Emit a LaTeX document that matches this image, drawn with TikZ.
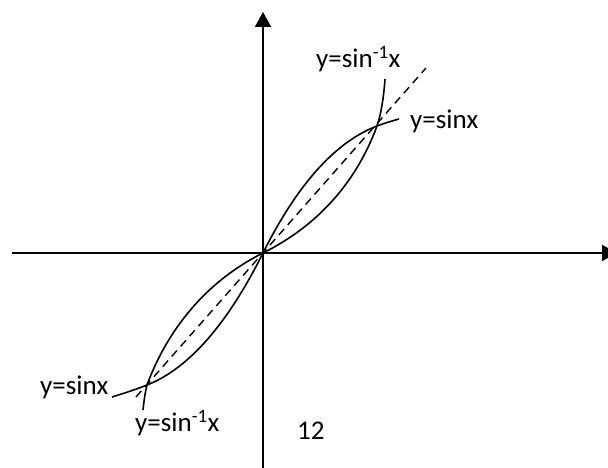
\documentclass[tikz,border=0pt]{standalone}
\usepackage{fontspec}
\setmainfont{Carlito}
\usetikzlibrary{arrows.meta,positioning}
\tikzset{
  axis/.style={-{Triangle[length=15pt, width=16pt]}, line width=1.8pt},
  curv/.style={line width=1.6pt},
  diag/.style={line width=1.4pt, dash pattern=on 8pt off 5.5pt},
  clab/.style={font=\fontsize{27}{32}\selectfont, inner sep=0pt},
}

\begin{document}
\begin{tikzpicture}[x=1pt, y=1pt]
  \useasboundingbox (-263,-215) rectangle (345,253);
  % axes
  \coordinate (O) at (0,0);
  \coordinate (xl) at (-251,0); \coordinate (xr) at (354,0);
  \coordinate (yb) at (0,-230); \coordinate (yt) at (0,241);
  \draw[axis] (xl) -- (xr);
  \draw[axis] (yb) -- (yt);
  % crossing points of the two curves
  \coordinate (P1) at (114,127);
  \coordinate (P2) at (-116,-132);
  % y=x
  \coordinate (dl) at (-127,-144); \coordinate (du) at (163,185);
  \draw[diag] (dl) -- (du);
  % y=sinx
  \coordinate (sl) at (-151,-144); \coordinate (su) at (136,134);
  \draw[curv] (sl) .. controls (-138,-140) and (-126,-136) .. (P2)
    .. controls (-80,-118) and (-40,-80) .. (O)
    .. controls (40,80) and (80,114) .. (P1)
    .. controls (122,130) and (129,132) .. (su);
  % y=sin^-1 x
  \coordinate (al) at (-120,-157); \coordinate (au) at (122,174);
  \draw[curv] (al) .. controls (-119,-148) and (-118,-140) .. (P2)
    .. controls (-102,-94) and (-70,-35) .. (O)
    .. controls (70,35) and (100,89) .. (P1)
    .. controls (119,142) and (121,160) .. (au);
  % labels
  \node[clab, anchor=base west] (lat) at (53,185) {y=sin\textsuperscript{-1}x};
  \node[clab, anchor=base west] (lsr) at (147,124) {y=sinx};
  \node[clab, anchor=base west] (lsl) at (-223,-142) {y=sinx};
  \node[clab, anchor=base west] (lab) at (-128,-179) {y=sin\textsuperscript{-1}x};
  \node[clab, anchor=base west] (num) at (34,-186) {12};
\end{tikzpicture}
\end{document}
